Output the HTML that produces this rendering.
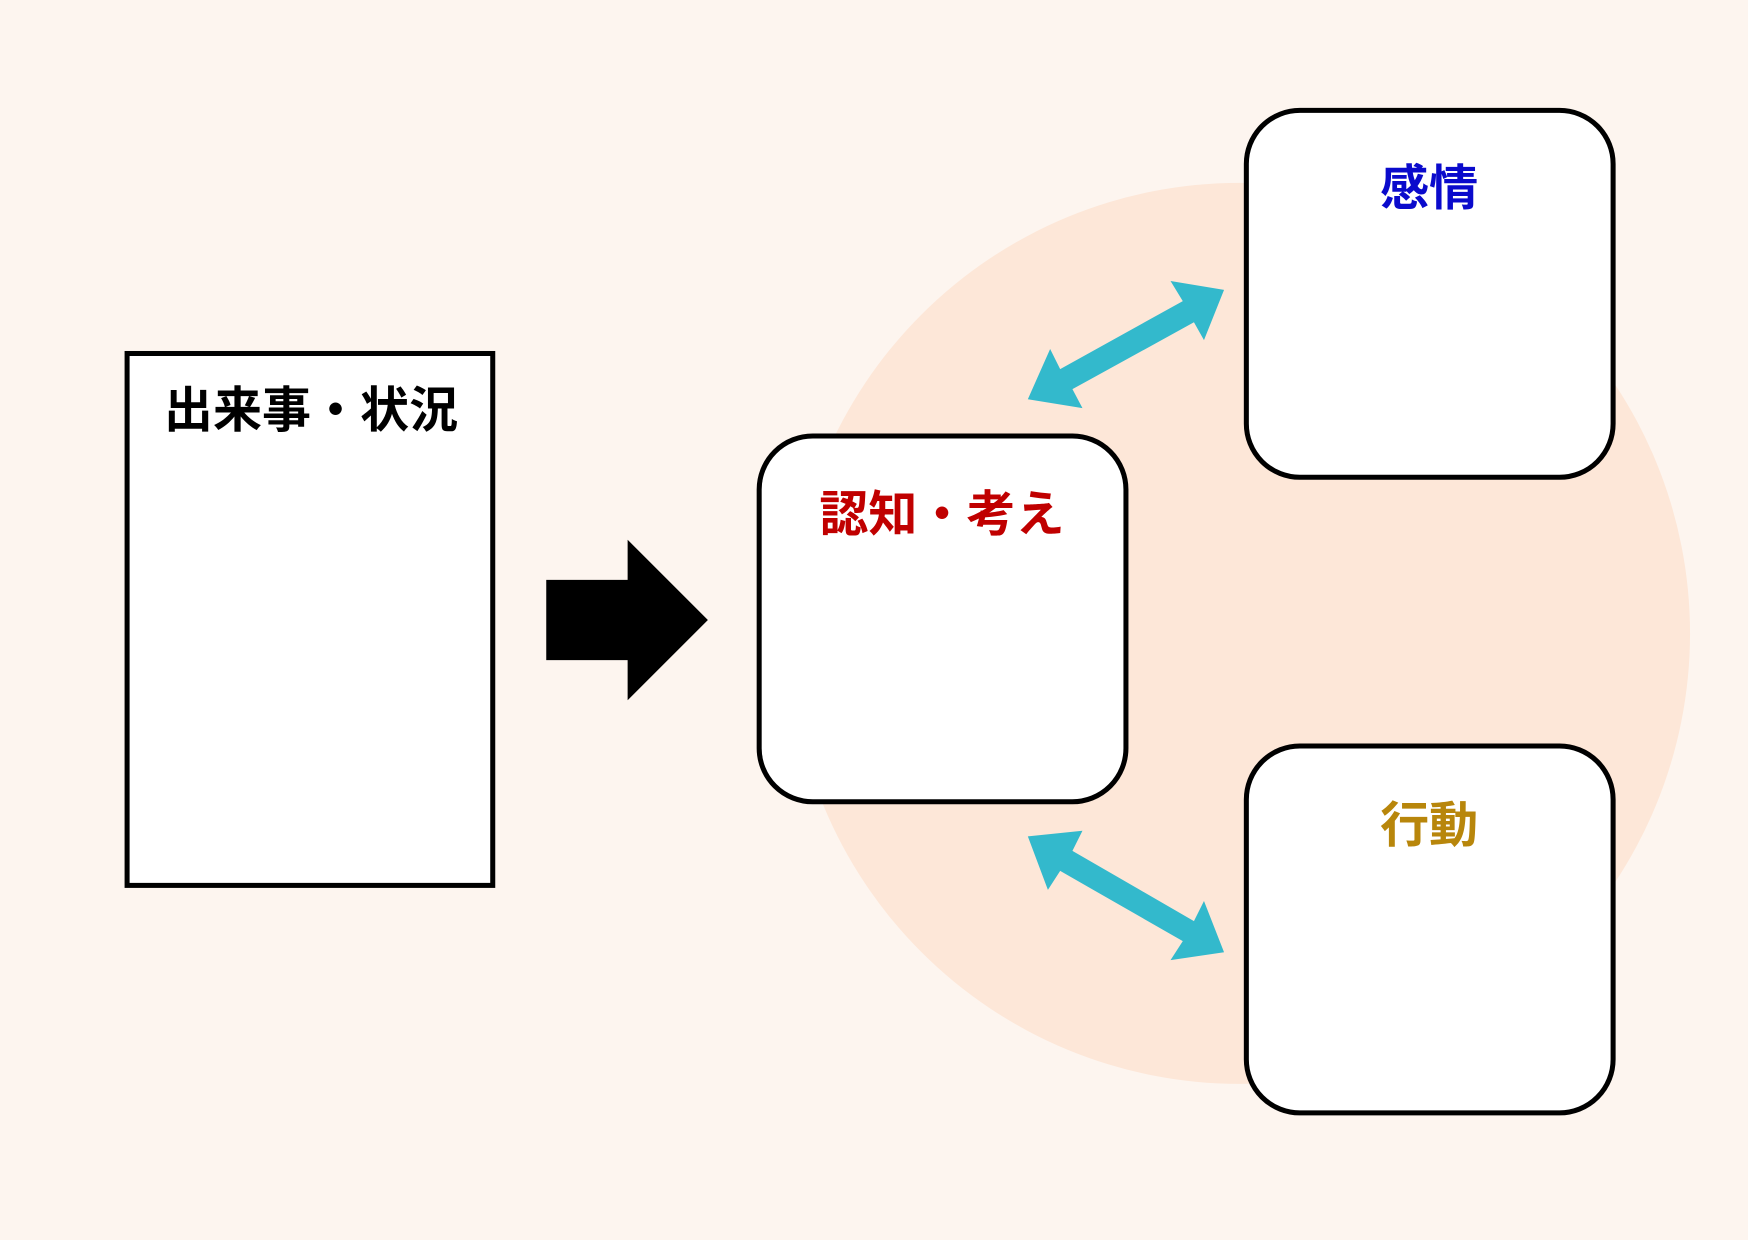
<!DOCTYPE html>
<html><head><meta charset="utf-8"><style>
html,body{margin:0;padding:0;background:#fdf5ef;}
svg{display:block;}
text{font-family:"Liberation Sans","Noto Sans CJK JP",sans-serif;font-size:44px;font-weight:bold;text-anchor:middle;}
</style></head><body>
<svg width="1748" height="1240" viewBox="0 0 1568 1112" preserveAspectRatio="none" xmlns="http://www.w3.org/2000/svg">
<rect x="0" y="0" width="1568" height="1112" fill="#fdf5ef"/>
<circle cx="1112" cy="568" r="404" fill="#fde7d8"/>
<rect x="114" y="317" width="328" height="477" fill="#fff" stroke="#000" stroke-width="4.5"/>
<text x="279" y="383" fill="#000">出来事・状況</text>
<polygon points="490,520 563,520 563,484 635,556 563,628 563,592 490,592" fill="#000"/>
<rect x="681" y="391" width="329" height="328" rx="48" fill="#fff" stroke="#000" stroke-width="4.5"/>
<text x="845" y="476" fill="#c00000">認知・考え</text>
<rect x="1118" y="99" width="329" height="329" rx="48" fill="#fff" stroke="#000" stroke-width="4.5"/>
<text x="1282" y="184" fill="#0a0acc">感情</text>
<rect x="1118" y="669" width="329" height="329" rx="48" fill="#fff" stroke="#000" stroke-width="4.5"/>
<text x="1282" y="755" fill="#b8860b">行動</text>
<polygon points="1098,260 1080,305 1071,289 962,349 971,366 922,358 942,313 951,331 1061,270 1050,252" fill="#33b9cc"/>
<polygon points="922,750 971,745 962,763 1071,826 1080,808 1098,854 1050,861 1061,844 951,781 940,798" fill="#33b9cc"/>
</svg>
</body></html>
